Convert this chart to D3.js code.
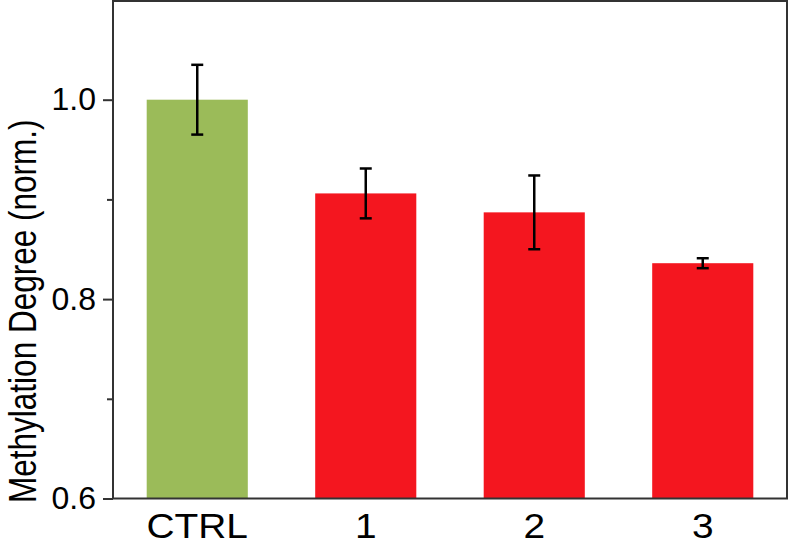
<!DOCTYPE html>
<html>
<head>
<meta charset="utf-8">
<script src="https://cdn.jsdelivr.net/npm/d3@7"></script>
<style>
html,body{margin:0;padding:0;background:#fff;}
text{font-family:"Liberation Sans",Arial,sans-serif;}
</style>
</head>
<body>
<svg id="chart" width="789" height="545"></svg>
<script>
const categories = ["CTRL", "1", "2", "3"];
const values = [1.0, 0.906, 0.887, 0.836];
const errors = [0.035, 0.025, 0.037, 0.005];
const barColors = ["#9bbb59", "#f4161f", "#f4161f", "#f4161f"];
const majorTicks = [0.6, 0.8, 1.0];
const minorTicks = [0.7, 0.9];
const tickLabels = ["0.6", "0.8", "1.0"];
const yTitle = "Methylation Degree (norm.)";

(function () {
const svg = d3.select("#chart");
const mLeft = 113, mRight = 787, mTop = 0, mBottom = 498.5;

const x = d3.scaleBand().domain(categories).range([mLeft, mRight])
  .paddingInner(0.4).paddingOuter(0.2);
const y = d3.scaleLinear().domain([0.6, 1.1]).range([mBottom, mTop]);

// bars
svg.append("g").selectAll("rect").data(categories).join("rect")
  .attr("x", d => x(d))
  .attr("width", x.bandwidth())
  .attr("y", (d, i) => y(values[i]))
  .attr("height", (d, i) => y(0.6) - y(values[i]))
  .attr("fill", (d, i) => barColors[i]);

// error bars
const eb = svg.append("g").attr("stroke", "#000").attr("stroke-width", 2.5);
categories.forEach((c, i) => {
  const cx = x(c) + x.bandwidth() / 2;
  const y1 = y(values[i] + errors[i]), y2 = y(values[i] - errors[i]);
  eb.append("line").attr("x1", cx).attr("x2", cx).attr("y1", y1).attr("y2", y2);
  eb.append("line").attr("x1", cx - 6).attr("x2", cx + 6).attr("y1", y1).attr("y2", y1);
  eb.append("line").attr("x1", cx - 6).attr("x2", cx + 6).attr("y1", y2).attr("y2", y2);
});

// frame
svg.append("rect")
  .attr("x", mLeft).attr("y", y(1.1) + 1)
  .attr("width", mRight - mLeft).attr("height", mBottom - y(1.1) - 1)
  .attr("fill", "none").attr("stroke", "#333").attr("stroke-width", 2);

// y axis major
const yAxis = d3.axisLeft(y).tickValues(majorTicks).tickSize(10)
  .tickFormat((d, i) => tickLabels[i]).tickPadding(7);
const gy = svg.append("g").attr("transform", `translate(${mLeft},0)`).call(yAxis);
gy.select(".domain").remove();
gy.selectAll(".tick line").attr("stroke", "#333").attr("stroke-width", 2);
gy.selectAll(".tick text").attr("font-size", 32).attr("fill", "#000")
  .attr("font-family", '"Liberation Sans", Arial, sans-serif');

// y axis minor
const gym = svg.append("g").attr("transform", `translate(${mLeft},0)`)
  .call(d3.axisLeft(y).tickValues(minorTicks).tickSize(6).tickFormat(""));
gym.select(".domain").remove();
gym.selectAll(".tick line").attr("stroke", "#333").attr("stroke-width", 2);

// x axis labels
const xAxis = d3.axisBottom(x).tickSize(0).tickPadding(14);
const gx = svg.append("g").attr("transform", `translate(0,${mBottom})`).call(xAxis);
gx.select(".domain").remove();
gx.selectAll(".tick text").attr("font-size", 36).attr("fill", "#000")
  .attr("font-family", '"Liberation Sans", Arial, sans-serif')
  .attr("transform", "scale(1.08,1)");

// y title
svg.append("text")
  .attr("transform", `translate(35.5,${(y(0.6) + y(1.1)) / 2 + 62}) rotate(-90) scale(1,1.24)`)
  .attr("text-anchor", "middle")
  .attr("font-size", 31.5)
  .attr("fill", "#000")
  .text(yTitle);
})();
</script>
</body>
</html>
